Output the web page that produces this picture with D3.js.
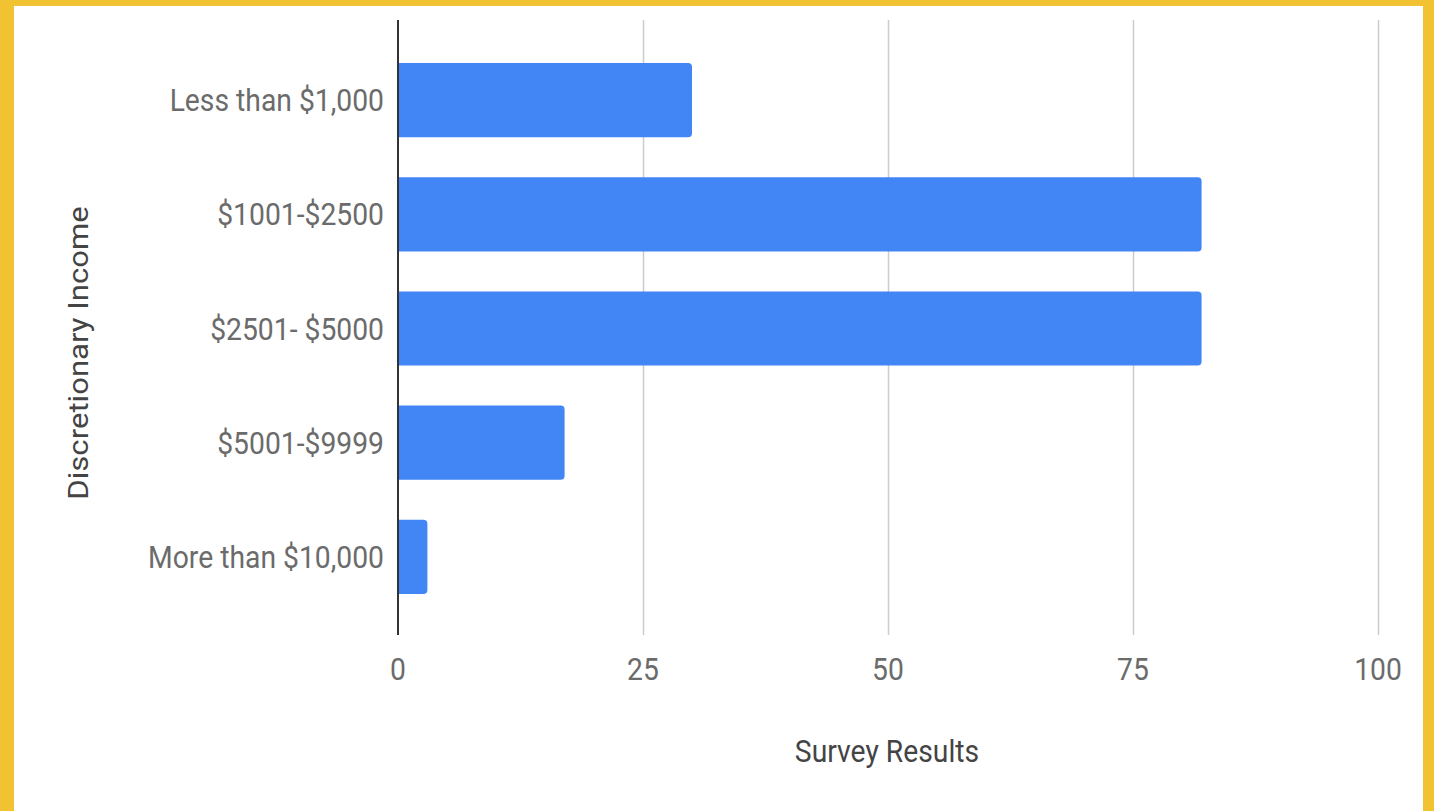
<!DOCTYPE html>
<html>
<head>
<meta charset="utf-8">
<script src="https://cdn.jsdelivr.net/npm/d3@7.9.0/dist/d3.min.js"></script>
<style>
  html, body { margin: 0; padding: 0; background: #f1c232; }
  svg { display: block; }
  text { font-family: Roboto, sans-serif; fill: #6b6b6b; }
</style>
</head>
<body>
<div id="chart"></div>
<script>
const categories = ['Less than $1,000', '$1001-$2500', '$2501- $5000', '$5001-$9999', 'More than $10,000'];
const values = [30, 82, 82, 17, 3];
const xTicks = [0, 25, 50, 75, 100];
const xTitle = 'Survey Results';
const yTitle = 'Discretionary Income';

const width = 1434;
const height = 811;
const fontSize = 28.3;
const stretch = 1.1; // source picture is a little taller than wide

const svg = d3.select('#chart')
  .append('svg')
  .attr('width', width)
  .attr('height', height);

// white card inside the yellow frame
svg.append('rect')
  .attr('x', 14)
  .attr('y', 6)
  .attr('width', 1409)
  .attr('height', height - 6)
  .attr('fill', '#fff');

const plot = { top: 20, bottom: 635, left: 398, right: 1378 };

const xScale = d3.scaleLinear()
  .domain([0, 100])
  .range([plot.left, plot.right]);

const yScale = d3.scaleBand()
  .domain(categories)
  .range([43, 614])
  .paddingInner(0.35)
  .paddingOuter(0.175);

// gridlines
svg.append('g')
  .attr('class', 'gridlines')
  .selectAll('line')
  .data(xTicks.filter((d) => d !== 0))
  .join('line')
  .attr('x1', (d) => xScale(d) + 0.5)
  .attr('x2', (d) => xScale(d) + 0.5)
  .attr('y1', plot.top)
  .attr('y2', plot.bottom)
  .attr('stroke', '#ccc')
  .attr('stroke-width', 1.5);

// bars, rounded on the right end
const r = 4;
svg.append('g')
  .attr('class', 'bars')
  .selectAll('path')
  .data(categories.map((c, i) => ({ cat: c, value: values[i] })))
  .join('path')
  .attr('d', (d) => {
    const x0 = xScale(0);
    const x1 = xScale(d.value);
    const y0 = yScale(d.cat);
    const y1 = y0 + yScale.bandwidth();
    return `M${x0},${y0}H${x1 - r}Q${x1},${y0} ${x1},${y0 + r}V${y1 - r}Q${x1},${y1} ${x1 - r},${y1}H${x0}Z`;
  })
  .attr('fill', '#4285f4');

// zero axis line
svg.append('line')
  .attr('x1', xScale(0))
  .attr('x2', xScale(0))
  .attr('y1', plot.top)
  .attr('y2', plot.bottom)
  .attr('stroke', '#333')
  .attr('stroke-width', 2);

// x tick labels
svg.append('g')
  .selectAll('text')
  .data(xTicks)
  .join('text')
  .attr('transform', (d) => `translate(${xScale(d)},680) scale(1,${stretch})`)
  .attr('text-anchor', 'middle')
  .style('font-size', fontSize + 'px')
  .text((d) => d);

// category labels
svg.append('g')
  .selectAll('text')
  .data(categories)
  .join('text')
  .attr('transform', (d) => `translate(384,${yScale(d) + yScale.bandwidth() / 2 + 11}) scale(1,${stretch})`)
  .attr('text-anchor', 'end')
  .style('font-size', fontSize + 'px')
  .text((d) => d);

// axis titles
svg.append('text')
  .attr('transform', `translate(887,762) scale(1,${stretch})`)
  .attr('text-anchor', 'middle')
  .style('font-size', fontSize + 'px')
  .style('fill', '#444')
  .text(xTitle);

svg.append('text')
  .attr('transform', `translate(88,353) rotate(-90) scale(${stretch},1)`)
  .attr('text-anchor', 'middle')
  .style('font-size', fontSize + 'px')
  .style('fill', '#444')
  .text(yTitle);
</script>
</body>
</html>
